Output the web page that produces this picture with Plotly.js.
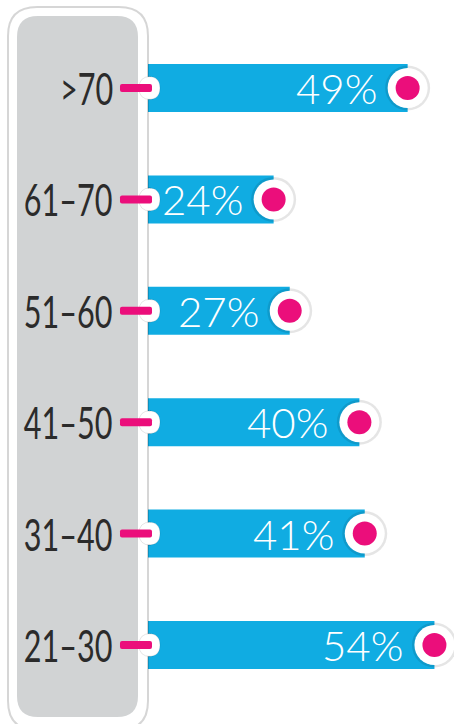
<!DOCTYPE html>
<html><head><meta charset="utf-8">
<script src="https://cdn.plot.ly/plotly-3.0.1.min.js"></script>
<style>html,body{margin:0;padding:0;background:#fff;}#chart{width:454px;height:724px;}</style>
</head><body><div id="chart"></div>
<script>
// ---- data ----
const ageGroups = ['>70', '61–70', '51–60', '41–50', '31–40', '21–30'];
const shares = [49, 24, 27, 40, 41, 54];
const shareLabels = ['49%', '24%', '27%', '40%', '41%', '54%'];

// ---- styling ----
const BLUE = '#10ACE2', PINK = '#EB0E7B', GREY = '#D1D3D4', INK = '#2B2B2B';
const rowPos = ageGroups.map((_, i) => ageGroups.length - 1 - i);

function rr(x0, y0, x1, y1, r) {
  const p = (x, y) => x + ',' + (-y);
  return 'M' + p(x0 + r, y0) + ' L' + p(x1 - r, y0) + ' Q' + p(x1, y0) + ' ' + p(x1, y0 + r) +
    ' L' + p(x1, y1 - r) + ' Q' + p(x1, y1) + ' ' + p(x1 - r, y1) +
    ' L' + p(x0 + r, y1) + ' Q' + p(x0, y1) + ' ' + p(x0, y1 - r) +
    ' L' + p(x0, y0 + r) + ' Q' + p(x0, y0) + ' ' + p(x0 + r, y0) + ' Z';
}

const shapes = [];
shapes.push({type: 'path', xref: 'paper', yref: 'paper', xsizemode: 'pixel', ysizemode: 'pixel', xanchor: 0, yanchor: 1,
  path: rr(8, 7, 148, 730, 29), fillcolor: '#ffffff', line: {color: 'rgba(0,0,0,0.16)', width: 2}, layer: 'above'});
shapes.push({type: 'path', xref: 'paper', yref: 'paper', xsizemode: 'pixel', ysizemode: 'pixel', xanchor: 0, yanchor: 1,
  path: rr(17, 16, 138, 717, 21), fillcolor: GREY, line: {width: 0}, layer: 'above'});
rowPos.forEach(y => {
  shapes.push({type: 'path', xref: 'x', yref: 'y', xsizemode: 'pixel', ysizemode: 'pixel', xanchor: 0, yanchor: y,
    path: rr(-6, -11.5, 15, 11.5, 11.5), fillcolor: '#ffffff', line: {color: 'rgba(0,0,0,0.1)', width: 1}, layer: 'above'});
  shapes.push({type: 'path', xref: 'x', yref: 'y', xsizemode: 'pixel', ysizemode: 'pixel', xanchor: 0, yanchor: y,
    path: rr(-25, -4, 7, 4, 2), fillcolor: PINK, line: {width: 0}, layer: 'above'});
});

const annotations = [];
ageGroups.forEach((g, i) => {
  annotations.push({x: 0, y: rowPos[i], xref: 'x', yref: 'y', text: g, showarrow: false,
    xanchor: 'right', yanchor: 'middle', xshift: -30, yshift: 0,
    font: {family: 'Lato, sans-serif', size: 45, color: INK, weight: 400}});
  annotations.push({x: shares[i], y: rowPos[i], xref: 'x', yref: 'y', text: shareLabels[i], showarrow: false,
    xanchor: 'right', yanchor: 'middle', xshift: -29, yshift: 0,
    font: {family: 'Lato, sans-serif', size: 42, color: '#ffffff', weight: 300}});
});

const traces = [
  {type: 'bar', orientation: 'h', x: shares, y: rowPos, base: 0, width: 0.431,
    marker: {color: BLUE, line: {width: 0}}, hoverinfo: 'skip'},
  {type: 'scatter', mode: 'markers', x: shares, y: rowPos, hoverinfo: 'skip',
    marker: {size: 45, color: 'rgba(0,0,0,0.10)', line: {width: 0}}},
  {type: 'scatter', mode: 'markers', x: shares, y: rowPos, hoverinfo: 'skip',
    marker: {size: 40, color: '#ffffff', line: {width: 0}}},
  {type: 'scatter', mode: 'markers', x: shares, y: rowPos, hoverinfo: 'skip',
    marker: {size: 24, color: PINK, line: {width: 0}}}
];

const layout = {
  width: 454, height: 724, margin: {l: 0, r: 0, t: 0, b: 0},
  paper_bgcolor: '#ffffff', plot_bgcolor: '#ffffff', showlegend: false,
  xaxis: {range: [-27.05, 57.65], visible: false, fixedrange: true},
  yaxis: {range: [-0.709, 5.79], visible: false, fixedrange: true},
  shapes: shapes, annotations: annotations
};
const gd = document.getElementById('chart');
Plotly.newPlot(gd, traces, layout, {displayModeBar: false, staticPlot: true}).then(() => {
  // condense the age-group labels horizontally (narrow typeface look)
  const labels = new Set(ageGroups);
  gd.querySelectorAll('text.annotation-text').forEach(t => {
    if (!labels.has(t.textContent)) return;
    const b = t.getBBox();
    const xr = b.x + b.width;
    t.setAttribute('transform', 'translate(' + xr + ',0) scale(0.68,1) translate(' + (-xr) + ',0)');
  });
});
</script></body></html>
